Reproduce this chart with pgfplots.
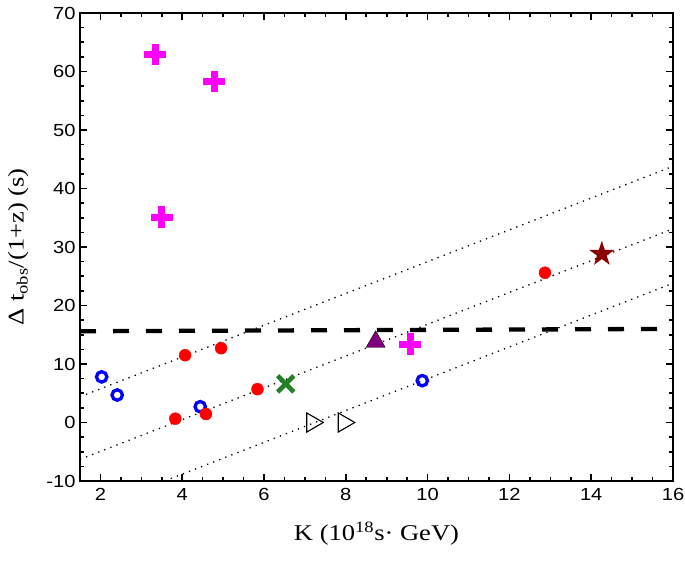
\documentclass[border=0pt]{standalone}
\usepackage{fontspec}
\setmainfont[FakeStretch=1.18]{Liberation Serif}
\newfontfamily\tickfont[FakeStretch=1.15]{Liberation Sans}
\usepackage{pgfplots}
\pgfplotsset{compat=1.18}
\definecolor{mymag}{RGB}{255,0,255}
\definecolor{mygreen}{RGB}{36,128,36}
\definecolor{mypurple}{RGB}{128,0,128}
\definecolor{mystar}{RGB}{139,0,0}
\pgfdeclareplotmark{fstar}{%
  \pgfpathmoveto{\pgfqpointpolar{90}{\pgfplotmarksize}}%
  \pgfpathlineto{\pgfqpointpolar{126}{0.382\pgfplotmarksize}}%
  \pgfpathlineto{\pgfqpointpolar{162}{\pgfplotmarksize}}%
  \pgfpathlineto{\pgfqpointpolar{198}{0.382\pgfplotmarksize}}%
  \pgfpathlineto{\pgfqpointpolar{234}{\pgfplotmarksize}}%
  \pgfpathlineto{\pgfqpointpolar{270}{0.382\pgfplotmarksize}}%
  \pgfpathlineto{\pgfqpointpolar{306}{\pgfplotmarksize}}%
  \pgfpathlineto{\pgfqpointpolar{342}{0.382\pgfplotmarksize}}%
  \pgfpathlineto{\pgfqpointpolar{18}{\pgfplotmarksize}}%
  \pgfpathlineto{\pgfqpointpolar{54}{0.382\pgfplotmarksize}}%
  \pgfpathclose
  \pgfusepathqfill
}
\begin{document}
\begin{tikzpicture}
\useasboundingbox (-80bp,-83bp) rectangle (605bp,481bp);
\begin{axis}[
  scale only axis, width=593bp, height=468bp,
  xmin=1.5, xmax=16, ymin=-10, ymax=70,
  xtick={2,4,...,16}, ytick={-10,0,...,70},
  xticklabels={2,4,6,8,10,12,14,16},
  yticklabels={-10,0,10,20,30,40,50,60,70},
  minor x tick num=3, minor y tick num=3,
  tick align=inside, major tick length=7.3bp, minor tick length=4bp,
  axis line style={line width=2.6bp},
  tick style={black, line width=1.6bp},
  tick label style={font=\tickfont\fontsize{17.5bp}{19bp}\selectfont},
  xticklabel style={yshift=-4bp},
  yticklabel style={xshift=-1bp},
  label style={font=\fontsize{22.5bp}{26bp}\selectfont},
  xlabel={K (10\textsuperscript{18}s· GeV)},
  ylabel={Δ t\textsubscript{obs}/(1+z) (s)},
  xlabel style={at={(axis description cs:0.5,0)}, anchor=base, yshift=-59bp},
  ylabel style={at={(axis description cs:-0.104,0.5)}, anchor=center},
]
% dotted guide lines
\addplot[black, line width=1.3bp, dash pattern=on 1.3bp off 5.2bp] coordinates {(1.5,4.4) (16,43.8)};
\addplot[black, line width=1.3bp, dash pattern=on 1.3bp off 5.2bp] coordinates {(1.5,-6.3) (16,33.1)};
\addplot[black, line width=1.3bp, dash pattern=on 1.3bp off 5.2bp] coordinates {(3.57,-10) (16,23.8)};
% dashed line
\addplot[black, line width=4.3bp, dash pattern=on 16bp off 17bp] coordinates {(1.5,15.6) (16,16.0)};
% magenta plus
\addplot[only marks, mark=+, mark size=10.8bp, line width=7bp, color=mymag] coordinates {(3.34,62.9) (4.78,58.3) (3.50,35.1) (9.57,13.4)};
% blue open circles
\addplot[only marks, mark=o, mark size=5.2bp, line width=3.3bp, color=blue] coordinates {(2.03,7.8) (2.41,4.7) (4.44,2.7) (9.87,7.15)};
% red filled circles
\addplot[only marks, mark=*, mark size=6bp, color=red, mark options={draw=none, fill=red}] coordinates {(4.07,11.5) (4.95,12.7) (5.84,5.7) (3.83,0.65) (4.58,1.45) (12.87,25.6)};
% green cross
\addplot[only marks, mark=x, mark size=11.5bp, line width=4.6bp, color=mygreen] coordinates {(6.53,6.6)};
% purple triangle
\addplot[only marks, mark=triangle*, mark size=11bp, mark options={draw=none, fill=mypurple}] coordinates {(8.73,13.8)};
% black open right triangles
\addplot[only marks, mark=triangle, mark size=11bp, line width=1.1bp, black, mark options={rotate=-90}] coordinates {(7.18,0) (7.95,0)};
% star
\addplot[only marks, mark=fstar, mark size=13.3bp, mark options={fill=mystar}] coordinates {(14.26,28.8)};
\end{axis}
\end{tikzpicture}
\end{document}
